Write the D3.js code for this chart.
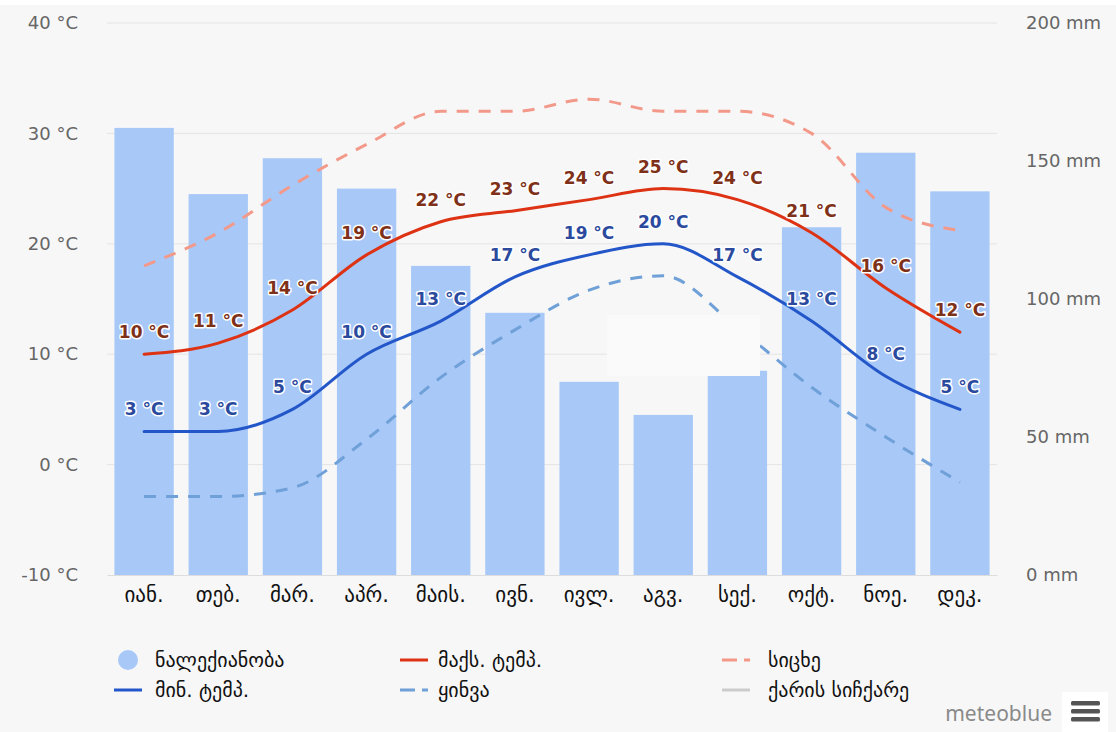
<!DOCTYPE html>
<html>
<head>
<meta charset="utf-8">
<script src="https://cdn.jsdelivr.net/npm/d3@7"></script>
<style>
  html, body { margin: 0; padding: 0; background: #f7f7f7; }
  svg { display: block; font-family: "DejaVu Sans", "Noto Sans", sans-serif; }
</style>
</head>
<body>
<div id="chart"></div>
<script>
// თვეები
const months = ["იან.", "თებ.", "მარ.", "აპრ.", "მაის.", "ივნ.", "ივლ.", "აგვ.", "სექ.", "ოქტ.", "ნოე.", "დეკ."];

// ნალექიანობა (mm)
const precipitation = [162, 138, 151, 140, 112, 95, 70, 58, 74, 126, 153, 139];
// მაქს. / მინ. ტემპერატურა (°C)
const maxTemp = [10, 11, 14, 19, 22, 23, 24, 25, 24, 21, 16, 12];
const minTemp = [3, 3, 5, 10, 13, 17, 19, 20, 17, 13, 8, 5];
// სიცხე და ყინვა (°C)
const hotDays = [18, 21, 25.3, 29, 32, 32, 33.1, 32, 32, 30, 23.3, 21.2];
const coldDays = [-2.9, -2.9, -2.1, 2.3, 7.9, 12.2, 15.8, 17.1, 12.4, 7, 2.5, -1.6];

const tempTicks = [-10, 0, 10, 20, 30, 40];
const precipTicks = [0, 50, 100, 150, 200];

const legendItems = [
    { label: "ნალექიანობა", kind: "circle", color: "#a8c8f8", col: 0, row: 0 },
    { label: "მინ. ტემპ.", kind: "line", color: "#2356c8", col: 0, row: 1 },
    { label: "მაქს. ტემპ.", kind: "line", color: "#dd3314", col: 1, row: 0 },
    { label: "ყინვა", kind: "dash", color: "#6fa0d8", col: 1, row: 1 },
    { label: "სიცხე", kind: "dash", color: "#f3998a", col: 2, row: 0 },
    { label: "ქარის სიჩქარე", kind: "line", color: "#cccccc", col: 2, row: 1 }
];

const width = 1116, height = 732;
const plot = { left: 107, right: 997, top: 23, bottom: 575 };

const svg = d3.select("#chart").append("svg")
    .attr("width", width)
    .attr("height", height);

svg.append("rect").attr("width", width).attr("height", height).attr("fill", "#f7f7f7");
svg.append("rect").attr("width", width).attr("height", 5).attr("fill", "#ffffff");

// სკალები
const x = d3.scaleBand()
    .domain(months)
    .range([plot.left, plot.right])
    .paddingInner(0.2)
    .paddingOuter(0.1);

const yT = d3.scaleLinear().domain([-10, 40]).range([plot.bottom, plot.top]);
const yP = d3.scaleLinear().domain([0, 200]).range([plot.bottom, plot.top]);

const cx = m => x(m) + x.bandwidth() / 2;

// ბადე
svg.append("g")
    .selectAll("line")
    .data(tempTicks.slice(1))
    .join("line")
    .attr("x1", plot.left)
    .attr("x2", plot.right)
    .attr("y1", d => yT(d))
    .attr("y2", d => yT(d))
    .attr("stroke", "#e4e4e4")
    .attr("stroke-width", 1);

// ღერძები
const leftAxis = svg.append("g")
    .attr("transform", `translate(${plot.left},0)`)
    .call(d3.axisLeft(yT).tickValues(tempTicks).tickSize(0).tickPadding(29).tickFormat(d => `${d} °C`));

const rightAxis = svg.append("g")
    .attr("transform", `translate(${plot.right},0)`)
    .call(d3.axisRight(yP).tickValues(precipTicks).tickSize(0).tickPadding(29).tickFormat(d => `${d} mm`));

[leftAxis, rightAxis].forEach(g => {
    g.select(".domain").remove();
    g.selectAll("text")
        .attr("fill", "#666666")
        .attr("font-size", 18)
        .attr("font-family", "\"DejaVu Sans\", sans-serif");
});

// სვეტები
svg.append("g")
    .selectAll("rect")
    .data(months.map((m, i) => ({ m, v: precipitation[i] })))
    .join("rect")
    .attr("x", d => x(d.m))
    .attr("y", d => yP(d.v))
    .attr("width", x.bandwidth())
    .attr("height", d => yP(0) - yP(d.v))
    .attr("fill", "#a8c8f8");

const bottomAxis = svg.append("g")
    .attr("transform", `translate(0,${plot.bottom})`)
    .call(d3.axisBottom(x).tickSize(0).tickPadding(12));
bottomAxis.select(".domain").attr("stroke", "#dddddd");
bottomAxis.selectAll("text")
    .attr("fill", "#111111")
    .attr("font-size", 21)
    .attr("font-family", "\"DejaVu Sans\", sans-serif");

// ხაზები
const line = d3.line()
    .x((d, i) => cx(months[i]))
    .y(d => yT(d))
    .curve(d3.curveMonotoneX);

function drawSeries(values, color, dash) {
    svg.append("path")
        .datum(values)
        .attr("d", line)
        .attr("fill", "none")
        .attr("stroke", color)
        .attr("stroke-width", 3)
        .attr("stroke-linecap", dash ? "butt" : "round")
        .attr("stroke-dasharray", dash ? "12,10" : null);
}

drawSeries(hotDays, "#f3998a", true);
drawSeries(coldDays, "#6fa0d8", true);
drawSeries(maxTemp, "#dd3314", false);
drawSeries(minTemp, "#2356c8", false);

// ცარიელი ტულტიპი
svg.append("rect")
    .attr("x", 607).attr("y", 315)
    .attr("width", 153).attr("height", 61)
    .attr("fill", "#fafafa");

// მონაცემთა წარწერები
function drawLabels(values, color) {
    svg.append("g")
        .selectAll("text")
        .data(values)
        .join("text")
        .attr("x", (d, i) => cx(months[i]))
        .attr("y", d => yT(d) - 16)
        .attr("text-anchor", "middle")
        .attr("font-size", 17)
        .attr("font-weight", "bold")
        .attr("fill", color)
        .attr("stroke", "#ffffff")
        .attr("stroke-width", 3)
        .attr("stroke-linejoin", "round")
        .attr("paint-order", "stroke")
        .text(d => `${d} °C`);
}

drawLabels(maxTemp, "#7e3118");
drawLabels(minTemp, "#2b4a9e");

// ლეგენდა
const legendCols = [114, 400, 722];
const legendTextX = [41, 38, 46];
const legendRows = [660, 690];
const legend = svg.append("g")
    .selectAll("g")
    .data(legendItems)
    .join("g")
    .attr("transform", d => `translate(${legendCols[d.col]},${legendRows[d.row]})`);

legend.filter(d => d.kind === "circle")
    .append("circle")
    .attr("cx", 14).attr("cy", 0).attr("r", 10)
    .attr("fill", d => d.color);

legend.filter(d => d.kind !== "circle")
    .append("line")
    .attr("x1", 0).attr("x2", 28)
    .attr("y1", 0).attr("y2", 0)
    .attr("stroke", d => d.color)
    .attr("stroke-width", 3)
    .attr("stroke-dasharray", d => d.kind === "dash" ? "15,7" : null);

legend.append("text")
    .attr("x", d => legendTextX[d.col])
    .attr("y", 0)
    .attr("dy", "0.35em")
    .attr("font-size", 20)
    .attr("fill", "#111111")
    .attr("font-family", "\"DejaVu Sans\", sans-serif")
    .text(d => d.label);

// meteoblue
svg.append("text")
    .attr("x", 1052).attr("y", 714)
    .attr("dy", "0.35em")
    .attr("text-anchor", "end")
    .attr("font-size", 21)
    .attr("font-family", "\"Noto Sans\", sans-serif")
    .attr("fill", "#8a8a8a")
    .text("meteoblue");

svg.append("rect")
    .attr("x", 1062).attr("y", 692).attr("width", 46).attr("height", 40)
    .attr("fill", "#ffffff");
svg.append("g")
    .selectAll("rect")
    .data([0, 1, 2])
    .join("rect")
    .attr("x", 1071).attr("y", d => 701 + d * 8)
    .attr("width", 29).attr("height", 4.5).attr("rx", 1.5)
    .attr("fill", "#555555");
</script>
</body>
</html>
